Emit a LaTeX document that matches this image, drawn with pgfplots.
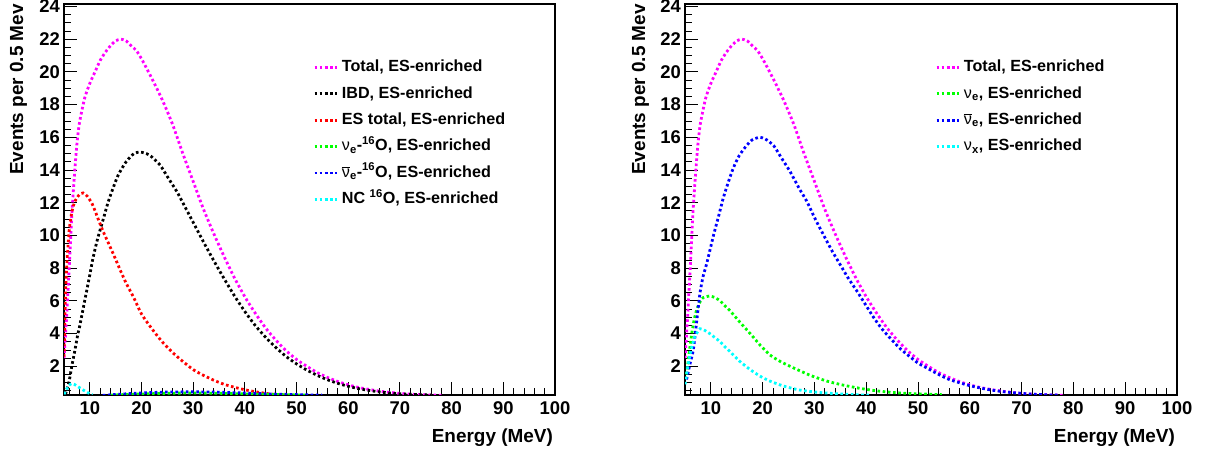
\documentclass[border=0pt]{standalone}
\usepackage{fontspec}
\setmainfont{Liberation Sans}
\usepackage{pgfplots}
\usepackage{pgfplotstable}
\pgfplotsset{compat=1.18}
\definecolor{rmag}{RGB}{255,0,255}
\definecolor{rgreen}{RGB}{0,255,0}
\definecolor{rblue}{RGB}{0,0,255}
\definecolor{rcyan}{RGB}{0,255,255}
\definecolor{rred}{RGB}{255,0,0}

\pgfplotstableread{
x y
5 2.5
5.5 5.0
6 8.0
6.5 11.2
7 13.6
7.5 15.6
8 16.9
9 18.4
10 19.3
11 20.0
12 20.7
13 21.2
14 21.6
15 21.9
16 22.0
17 21.9
18 21.6
19 21.3
20 20.8
22 19.6
24 18.3
26 16.8
28 15.0
30 13.3
32 11.6
34 10.1
36 8.7
38 7.4
40 6.25
42 5.25
44 4.35
46 3.6
48 2.95
50 2.42
52 2.0
54 1.62
56 1.32
58 1.07
60 0.87
62 0.71
64 0.59
66 0.49
68 0.41
70 0.35
72 0.3
74 0.27
76 0.25
78 0.23
}\total

\pgfplotstableread{
x y
5.3 0.3
6 1.1
6.5 2.0
7 2.8
7.7 4.0
8 4.4
9 6.0
10 7.6
10.6 8.6
11.5 9.8
12.6 11.0
13.5 12.0
14.5 12.9
15.5 13.7
17 14.5
18.5 15.0
19.7 15.1
21 15.0
22 14.8
23.6 14.3
25 13.6
26.8 12.7
28 12.0
30 10.8
32 9.6
34 8.45
36 7.35
38 6.3
40 5.35
42 4.5
44 3.78
46 3.15
48 2.6
50 2.15
52 1.77
54 1.45
56 1.18
58 0.96
60 0.78
62 0.64
64 0.53
66 0.44
68 0.37
70 0.32
72 0.29
74 0.27
76 0.25
}\ibd

\pgfplotstableread{
x y
5 2.6
5.25 6.0
5.5 8.0
6 10.3
6.5 11.4
7 12.0
7.5 12.3
8 12.5
8.7 12.6
9.5 12.4
10.5 11.9
11.5 11.1
12.5 10.3
13.5 9.6
14.5 8.9
16 7.8
17 7.1
18.5 6.2
20 5.2
22 4.3
24 3.5
26 2.85
28 2.3
30 1.8
32 1.45
34 1.15
36 0.9
38 0.72
40 0.57
42 0.45
44 0.35
46 0.28
48 0.24
}\estot

\pgfplotstableread{
x y
14 0.24
17 0.28
20 0.31
23 0.34
26 0.36
30 0.37
34 0.36
38 0.33
42 0.3
46 0.28
49 0.26
52 0.24
}\nueO

\pgfplotstableread{
x y
12.5 0.23
14 0.26
16 0.3
18 0.34
20 0.37
22 0.4
25 0.43
28 0.44
31 0.44
34 0.43
37 0.4
40 0.37
43 0.34
46 0.3
49 0.28
52 0.26
55 0.24
}\nubarO

\pgfplotstableread{
x y
5 0.3
5.5 0.6
6 0.85
6.5 0.95
7 0.9
7.5 0.8
8 0.7
9 0.5
10 0.33
10.5 0.26
}\ncO

\pgfplotstableread{
x y
5.3 1.5
5.8 2.8
6.3 4.0
6.8 4.9
7.3 5.5
8 6.0
8.5 6.2
9.8 6.3
10.8 6.2
11.8 6.0
12.7 5.7
13.7 5.4
15.6 4.7
17.6 4.0
19.5 3.3
21.4 2.7
23.4 2.3
26 1.9
29.2 1.45
32.4 1.1
35.6 0.85
38.9 0.65
42.1 0.5
45.3 0.4
48.5 0.34
51.8 0.3
54.6 0.27
}\nue

\pgfplotstableread{
x y
5.3 1.2
6 2.2
6.6 3.0
7.2 4.6
7.9 6.5
8.5 7.5
9.2 8.3
10.5 10.0
11.5 11.2
12.4 12.3
13.3 13.2
14.3 14.1
15.5 14.9
16.9 15.5
18 15.85
19.4 16.0
20.5 15.9
22.1 15.5
23.5 14.8
25.3 13.9
27 12.9
28.5 12.1
30 11.1
31.8 10.0
33.5 9.0
35 8.2
36.5 7.4
38.2 6.6
40 5.7
41.4 5.0
43 4.3
44.7 3.7
46.5 3.1
48 2.7
50 2.2
52 1.85
54 1.5
56 1.2
58 1.0
60 0.82
62 0.68
64 0.56
66 0.47
68 0.4
70 0.35
72 0.3
74 0.27
76 0.25
77 0.24
}\nuebar

\pgfplotstableread{
x y
5 0.9
5.5 1.9
6 2.8
6.5 3.4
6.9 3.8
7.4 4.1
7.9 4.3
8.8 4.2
9.8 4.0
10.8 3.75
11.8 3.5
12.7 3.2
13.7 2.9
15.6 2.3
17.6 1.8
19.5 1.4
21.4 1.1
24 0.8
27.2 0.55
31.1 0.4
35.6 0.3
38.5 0.26
41 0.24
}\nux

\newcommand{\nuv}{{\mdseries ν}}
\newcommand{\nubar}{\ensuremath{\overline{\mbox{\mdseries ν}}}}

\pgfplotsset{
  rootaxis/.style={
    scale only axis, height=391bp,
    xmin=5, xmax=100, ymin=0.25, ymax=24.15,
    xtick={10,20,...,100}, minor xtick={6,8,...,98},
    ytick={2,4,...,24}, minor ytick={0.5,1,...,24},
    tick align=inside, tick pos=left,
    major tick length=13bp, minor tick length=6.5bp,
    axis line style={line width=1.2bp},
    every tick/.style={line width=0.9bp, black},
    tick label style={font=\fontsize{18.5}{19}\selectfont\bfseries},
    /pgf/number format/assume math mode=true,
    xticklabel style={inner sep=0pt, yshift=-6bp},
    yticklabel style={inner sep=0pt, xshift=-4bp},
    xlabel={Energy (MeV)},
    xlabel style={at={(axis description cs:0.996,-0.1215)}, anchor=base east, inner sep=0pt, font=\fontsize{19}{20}\selectfont\bfseries},
    ylabel={Events per 0.5 Mev},
    ylabel style={at={(axis description cs:-0.0835,1)}, anchor=base east, rotate=0, inner sep=0pt, font=\fontsize{19}{20}\selectfont\bfseries},
    legend style={anchor=north west, draw=none, fill=none, inner sep=0pt,
      font=\fontsize{16.2}{17}\selectfont\bfseries,
      nodes={inner sep=0pt, text height=11.5bp, text depth=3bp},
      row sep=11.9bp, column sep=4bp},
    legend cell align=left,
    legend image code/.code={\draw[#1] (0bp,0bp) -- (22bp,0bp);},
  },
  dl/.style={line width=2.8bp, dash pattern=on 2.6bp off 2.6bp, line cap=butt, smooth, tension=0.4},
}

\begin{document}
\begin{tikzpicture}
\useasboundingbox (0,0) rectangle (1205bp,453bp);
\begin{axis}[rootaxis, width=491bp, at={(64bp,58bp)}, anchor=south west,
  legend style={at={(axis description cs:0.507,0.857)}}]
\addplot[dl, rmag] table[x=x,y=y] {\total};
\addlegendentry{Total, ES-enriched}
\addplot[dl, black] table[x=x,y=y] {\ibd};
\addlegendentry{IBD, ES-enriched}
\addplot[dl, rred] table[x=x,y=y] {\estot};
\addlegendentry{ES total, ES-enriched}
\addplot[dl, rgreen] table[x=x,y=y] {\nueO};
\addlegendentry{\nuv\textsubscript{e}-\textsuperscript{16}O, ES-enriched}
\addplot[dl, rblue] table[x=x,y=y] {\nubarO};
\addlegendentry{\nubar\textsubscript{e}-\textsuperscript{16}O, ES-enriched}
\addplot[dl, rcyan] table[x=x,y=y] {\ncO};
\addlegendentry{NC \textsuperscript{16}O, ES-enriched}
\end{axis}
\begin{axis}[rootaxis, width=492bp, at={(685bp,58bp)}, anchor=south west,
  ylabel style={at={(axis description cs:-0.0813,1)}},
  legend style={at={(axis description cs:0.508,0.857)}}]
\addplot[dl, rmag] table[x=x,y=y] {\total};
\addlegendentry{Total, ES-enriched}
\addplot[dl, rgreen] table[x=x,y=y] {\nue};
\addlegendentry{\nuv\textsubscript{e}, ES-enriched}
\addplot[dl, rblue] table[x=x,y=y] {\nuebar};
\addlegendentry{\nubar\textsubscript{e}, ES-enriched}
\addplot[dl, rcyan] table[x=x,y=y] {\nux};
\addlegendentry{\nuv\textsubscript{x}, ES-enriched}
\end{axis}
\end{tikzpicture}
\end{document}
